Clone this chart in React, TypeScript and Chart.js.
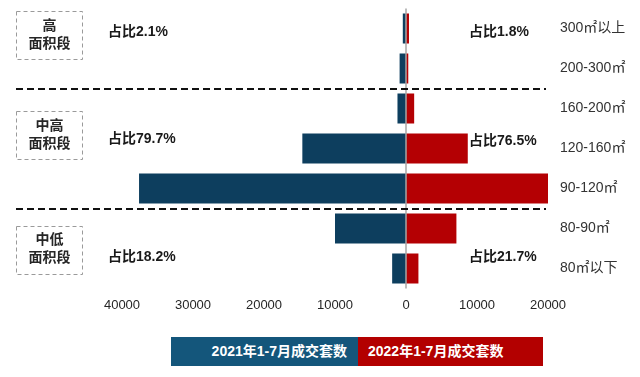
import React, { useEffect, useRef } from "react";
import { Chart, registerables } from "chart.js";

Chart.register(...registerables);

const categories = ["300㎡以上", "200-300㎡", "160-200㎡", "120-160㎡", "90-120㎡", "80-90㎡", "80㎡以下"];
const sales2021 = [450, 900, 1200, 14600, 37600, 10000, 1950];
const sales2022 = [420, 320, 1150, 8700, 20100, 7100, 1750];
const xTickValues = [-40000, -30000, -20000, -10000, 0, 10000, 20000];
const groupNames = [["高", "面积段"], ["中高", "面积段"], ["中低", "面积段"]];
const share2021 = ["占比2.1%", "占比79.7%", "占比18.2%"];
const share2022 = ["占比1.8%", "占比76.5%", "占比21.7%"];
const legendLabels = ["2021年1-7月成交套数", "2022年1-7月成交套数"];

const FONT = '"Liberation Sans", "Noto Sans CJK SC", sans-serif';
const BLUE = "#0d3e5e";
const RED = "#b40003";

const overlayPlugin = {
  id: "overlay",
  afterDatasetsDraw(chart: any) {
    const ctx = chart.ctx as CanvasRenderingContext2D;
    const y = chart.scales.y;
    const x = chart.scales.x;
    const area = chart.chartArea;
    const rowY = (i: number) => y.getPixelForValue(i);
    ctx.save();

    // zero line
    const x0 = x.getPixelForValue(0);
    ctx.strokeStyle = "#a6a6a6";
    ctx.lineWidth = 1.5;
    ctx.beginPath();
    ctx.moveTo(x0, area.top);
    ctx.lineTo(x0, area.bottom);
    ctx.stroke();

    // dashed separators
    ctx.strokeStyle = "#111111";
    ctx.lineWidth = 2;
    ctx.setLineDash([7, 4]);
    [1, 4].forEach((i) => {
      const yy = Math.round((rowY(i) + rowY(i + 1)) / 2);
      ctx.beginPath();
      ctx.moveTo(16, yy);
      ctx.lineTo(546, yy);
      ctx.stroke();
    });

    // group boxes
    const centers = [rowY(0) + 6.5, (rowY(2) + rowY(3)) / 2 + 6.5, (rowY(5) + rowY(6)) / 2 + 1];
    ctx.setLineDash([4, 3]);
    ctx.strokeStyle = "#9a9a9a";
    ctx.lineWidth = 1;
    centers.forEach((cy, gi) => {
      ctx.strokeRect(16.5, Math.round(cy - 24) + 0.5, 66, 48);
      ctx.fillStyle = "#262626";
      ctx.font = `bold 14px ${FONT}`;
      ctx.textAlign = "center";
      ctx.textBaseline = "middle";
      ctx.fillText(groupNames[gi][0], 49.5, cy - 9);
      ctx.fillText(groupNames[gi][1], 49.5, cy + 9);
    });
    ctx.setLineDash([]);

    // share texts
    const leftY = [rowY(0) + 4, rowY(3) - 9, rowY(6) - 11];
    const rightY = [rowY(0) + 4, rowY(3) - 7, rowY(6) - 11];
    ctx.fillStyle = "#1a1a1a";
    ctx.font = `bold 14px ${FONT}`;
    ctx.textAlign = "left";
    ctx.textBaseline = "middle";
    share2021.forEach((t, i) => ctx.fillText(t, 108, leftY[i]));
    share2022.forEach((t, i) => ctx.fillText(t, 469, rightY[i]));
    ctx.restore();
  },
};

export default function App() {
  const canvasRef = useRef<HTMLCanvasElement | null>(null);

  useEffect(() => {
    const canvas = canvasRef.current;
    if (!canvas) return;
    const chart = new Chart(canvas, {
      type: "bar",
      data: {
        labels: categories,
        datasets: [
          {
            label: legendLabels[0],
            data: sales2021.map((v) => -v),
            backgroundColor: BLUE,
            categoryPercentage: 0.75,
            barPercentage: 1,
          },
          {
            label: legendLabels[1],
            data: sales2022,
            backgroundColor: RED,
            categoryPercentage: 0.75,
            barPercentage: 1,
          },
        ],
      },
      options: {
        indexAxis: "y",
        responsive: false,
        animation: false,
        layout: { padding: { left: 122, top: 8.5, right: 0, bottom: 0 } },
        plugins: { legend: { display: false }, tooltip: { enabled: false } },
        scales: {
          x: {
            type: "linear",
            min: -40000,
            max: 20000,
            stacked: true,
            afterBuildTicks: (s: any) => {
              s.ticks = xTickValues.map((v) => ({ value: v }));
            },
            ticks: {
              callback: (v: any) => String(Math.abs(Number(v))),
              font: { size: 13, family: FONT },
              color: "#262626",
              padding: 9,
              maxRotation: 0,
              autoSkip: false,
            },
            grid: { display: false, drawTicks: false },
            border: { display: false },
            afterFit: (s: any) => {
              s.height = 377 - 288.5;
              s.paddingLeft = 0;
              s.paddingRight = 0;
            },
          },
          y: {
            type: "category",
            position: "right",
            stacked: true,
            ticks: {
              crossAlign: "near",
              padding: 12,
              font: { size: 14, family: FONT },
              color: "#333333",
            },
            grid: { display: false, drawTicks: false },
            border: { display: false },
            afterFit: (s: any) => {
              s.width = 640 - 548;
              s.paddingTop = 0;
              s.paddingBottom = 0;
            },
          },
        },
      },
      plugins: [overlayPlugin],
    } as any);
    return () => chart.destroy();
  }, []);

  const legendText: React.CSSProperties = {
    color: "#ffffff",
    fontFamily: FONT,
    fontWeight: "bold",
    fontSize: 14,
    lineHeight: "29px",
    position: "absolute",
    top: 337,
    height: 29,
    whiteSpace: "nowrap",
    boxSizing: "border-box",
  };

  return (
    <div style={{ position: "fixed", left: 0, top: 0, width: 640, height: 377, background: "#ffffff" }}>
      <canvas ref={canvasRef} width={640} height={377} style={{ display: "block", width: 640, height: 377 }} />
      <div style={{ ...legendText, left: 171, width: 187, background: "#14567b", textAlign: "right", paddingRight: 11 }}>
        {legendLabels[0]}
      </div>
      <div style={{ ...legendText, left: 358, width: 185, background: "#b30000", textAlign: "left", paddingLeft: 10 }}>
        {legendLabels[1]}
      </div>
    </div>
  );
}
